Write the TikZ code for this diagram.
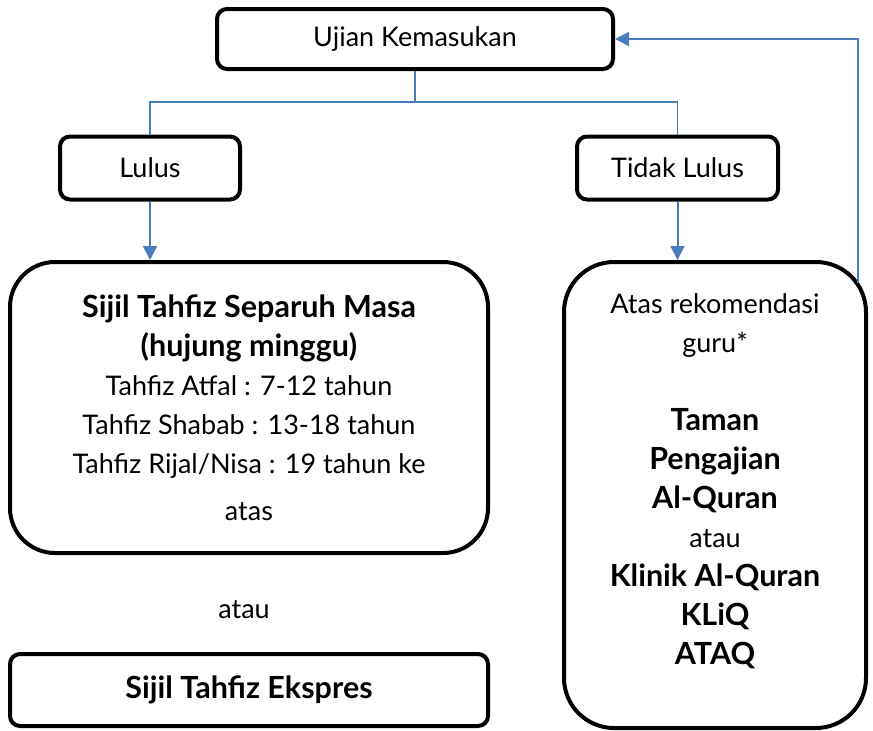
\documentclass[tikz,border=0pt]{standalone}
\usepackage{fontspec}
\setmainfont{Lato}
\usetikzlibrary{arrows.meta}
\definecolor{linkblue}{RGB}{74,126,187}
\newcommand{\tebal}[1]{{\fontsize{30.5}{39}\selectfont\bfseries #1}}

\begin{document}
\begin{tikzpicture}[x=1pt, y=-1pt,
    smallbox/.style ={rectangle, draw, line width=4pt, rounded corners=10pt,
      inner sep=0pt, font=\fontsize{27}{39}\selectfont},
    bigbox/.style ={rectangle, draw, line width=4pt, rounded corners=45pt,
      inner sep=0pt, align=center, font=\fontsize{27}{39}\selectfont},
    connector/.style ={draw=linkblue, line width=1.5pt},
    flow/.style ={draw=linkblue, line width=2pt, -{Triangle[width=14pt,length=14pt]}}]
   \useasboundingbox (0,0) rectangle (873,731);

   \node[smallbox, minimum width=396pt, minimum height=60pt] (ujian) at (415,39) {Ujian Kemasukan};
   \node[smallbox, minimum width=180pt, minimum height=63pt] (lulus) at (150,168) {Lulus};
   \node[smallbox, minimum width=201pt, minimum height=63pt] (tidak) at (677.5,168) {Tidak Lulus};

   \node[bigbox, minimum width=478pt, minimum height=291pt] (separuh) at (249,407.5)
     {\tebal{Sijil Tahfiz Separuh Masa}\\ \tebal{(hujung minggu)}\\
      Tahfiz Atfal : 7-12 tahun\\ Tahfiz Shabab : 13-18 tahun\\
      Tahfiz Rijal/Nisa : 19 tahun ke\\[8pt] atas};
   \node[font=\fontsize{27}{39}\selectfont] (atau) at (244,610) {atau};
   \node[smallbox, minimum width=478pt, minimum height=72pt] (ekspres) at (249,690)
     {\tebal{Sijil Tahfiz Ekspres}};

   \node[bigbox, rounded corners=50pt, minimum width=302pt, minimum height=466pt] (rekom) at (715,495)
     {Atas rekomendasi\\ guru*\\[39pt] \tebal{Taman}\\ \tebal{Pengajian}\\
      \tebal{Al-Quran}\\ atau\\ \tebal{Klinik Al-Quran}\\ \tebal{KLiQ}\\
      \tebal{ATAQ}\\[-7pt]\mbox{}};

   \coordinate (balik) at (858,283);

   \draw[connector] (ujian.south) -- ++(0,31) -| (lulus.north);
   \draw[connector] (ujian.south) -- ++(0,31) -| (tidak.north);

   \draw[flow] (lulus.south) -- (lulus.south |- separuh.north);
   \draw[flow] (tidak.south) -- (tidak.south |- rekom.north);

   \draw[flow] (balik) |- (ujian.east);

\end{tikzpicture}
\end{document}
